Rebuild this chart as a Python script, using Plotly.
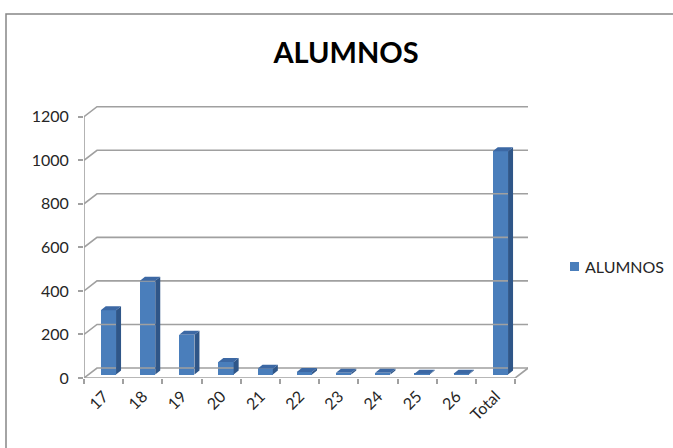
import plotly.graph_objects as go

# ---- data ----
categories = ["17", "18", "19", "20", "21", "22", "23", "24", "25", "26", "Total"]
alumnos = [295, 430, 182, 57, 26, 12, 8, 8, 3, 4, 1025]
y_ticks = [0, 200, 400, 600, 800, 1000, 1200]
series_name = "ALUMNOS"

# ---- geometry (pixels) ----
W, H = 673, 448
L, R = 84, 528          # plot area left/right
T, B = 100, 378         # plot area top/bottom
cat_px = 39.2           # pixels per category
val_px = 261.3 / 1200   # pixels per value unit

n = len(categories)
xs = list(range(n))
px_x = 1.0 / cat_px
px_y = 1.0 / val_px
depth_dx = 13 * px_x    # back wall offset
depth_dy = 10 * px_y
x_min = -0.5
x_max = x_min + (R - L) * px_x
y_max = (B - T) * px_y

front_col = "#4a7ebb"
side_col = "#2f5688"
top_col = "#3c68a4"
grid_col = "#a0a0a0"

bar_off = (4.8 - 7.65) * px_x
bar_w = 15.3 * px_x
bar_base = 3.5 * px_y
side_dx = 5 * px_x
side_dy = 4 * px_y

fig = go.Figure()

# gridlines on back wall with diagonal on left side
gx, gy = [], []
for v in y_ticks:
    gx += [x_min, x_min + depth_dx, x_max, None]
    gy += [v, v + depth_dy, v + depth_dy, None]
# floor front line and right diagonal
gx += [x_min, n - 0.5, n - 0.5 + depth_dx, None]
gy += [0, 0, depth_dy, None]
# y axis line
gx += [x_min, x_min, None]
gy += [0, y_ticks[-1], None]
fig.add_trace(go.Scatter(x=gx, y=gy, mode="lines", line=dict(color=grid_col, width=1.6),
                         hoverinfo="skip", showlegend=False))

# bars front faces
fig.add_trace(go.Bar(x=xs, y=alumnos, base=[bar_base] * n, offset=bar_off, width=bar_w,
                     name=series_name,
                     marker=dict(color=front_col, line=dict(width=0)), showlegend=False))

# side and top faces
sx, sy, tx, ty = [], [], [], []
for i, v in zip(xs, alumnos):
    x0 = i + bar_off
    x1 = x0 + bar_w
    b = bar_base
    t = bar_base + v
    sx += [x1, x1, x1 + side_dx, x1 + side_dx, x1, None]
    sy += [b, t, t + side_dy, b + side_dy, b, None]
    tx += [x0, x1, x1 + side_dx, x0 + side_dx, x0, None]
    ty += [t, t, t + side_dy, t + side_dy, t, None]
fig.add_trace(go.Scatter(x=sx, y=sy, mode="lines", fill="toself", fillcolor=side_col,
                         line=dict(width=0, color=side_col), hoverinfo="skip", showlegend=False))
fig.add_trace(go.Scatter(x=tx, y=ty, mode="lines", fill="toself", fillcolor=top_col,
                         line=dict(width=0, color=top_col), hoverinfo="skip", showlegend=False))

# boundary ticks axis
fig.add_trace(go.Scatter(x=[x_min], y=[0], xaxis="x2", mode="markers",
                         marker=dict(opacity=0), hoverinfo="skip", showlegend=False))

font_fam = "Lato, 'Open Sans', sans-serif"
txt_col = "#262626"


def px2paper_x(p):
    return (p - L) / (R - L)


def px2paper_y(p):
    return (B - p) / (B - T)


fig.update_layout(
    width=W, height=H,
    margin=dict(l=L, r=W - R, t=T, b=H - B, pad=0, autoexpand=False),
    paper_bgcolor="white", plot_bgcolor="white",
    font=dict(family=font_fam, color=txt_col, size=15),
    showlegend=False,
    title=dict(text="<b>ALUMNOS</b>", x=346 / W, xanchor="center", xref="container",
               y=1 - 53 / H, yanchor="middle", yref="container",
               font=dict(family=font_fam, size=29, color="#000000")),
    xaxis=dict(range=[x_min, x_max], tickvals=xs, ticktext=categories, tickangle=-45,
               ticks="", showgrid=False, zeroline=False, showline=False,
               ticklabelstandoff=5, tickfont=dict(size=16, color=txt_col)),
    xaxis2=dict(range=[x_min, x_max], overlaying="x", anchor="y",
                tickvals=[i - 0.5 for i in range(n + 1)], ticks="outside", ticklen=5,
                tickcolor=grid_col, tickwidth=1.6, showticklabels=False,
                showgrid=False, zeroline=False, showline=False),
    yaxis=dict(range=[0, y_max], tickvals=y_ticks, ticks="outside", ticklen=5,
               tickcolor=grid_col, tickwidth=1.6, showgrid=False, zeroline=False,
               showline=False, ticklabelstandoff=6, tickfont=dict(size=16, color=txt_col)),
    annotations=[dict(text=series_name, xref="paper", yref="paper",
                      x=px2paper_x(583), y=px2paper_y(266.5), xanchor="left", yanchor="middle",
                      showarrow=False, font=dict(size=16, color=txt_col))],
    bargap=0,
    shapes=[
        dict(type="rect", xref="paper", yref="paper",
             x0=px2paper_x(6), x1=px2paper_x(W + 5),
             y0=px2paper_y(H + 5), y1=px2paper_y(14),
             line=dict(color="#868686", width=1.5), fillcolor="rgba(0,0,0,0)", layer="below"),
        dict(type="rect", xref="paper", yref="paper",
             x0=px2paper_x(570), x1=px2paper_x(579),
             y0=px2paper_y(271), y1=px2paper_y(262),
             line=dict(width=0), fillcolor=front_col),
    ],
)

fig.write_html("out.html", config={"displayModeBar": False},
               post_script="document.body.style.margin='0px';document.body.style.overflow='hidden';")
